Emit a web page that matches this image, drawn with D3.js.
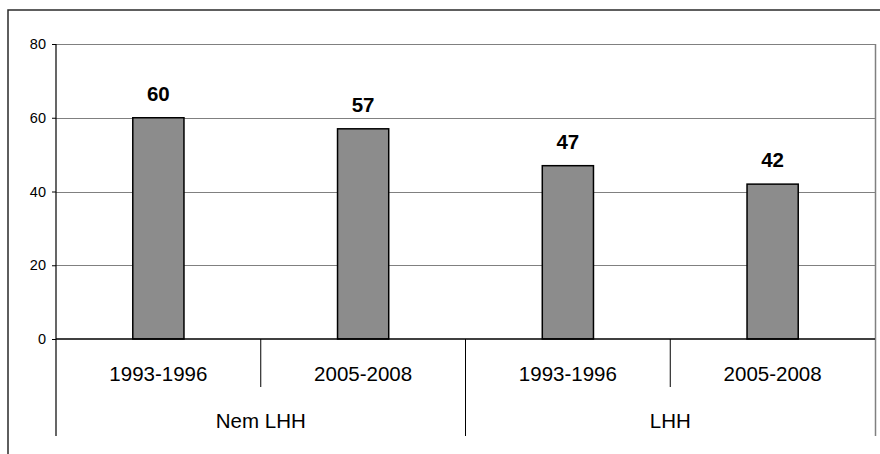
<!DOCTYPE html>
<html>
<head>
<meta charset="utf-8">
<script src="https://cdn.jsdelivr.net/npm/d3@7"></script>
<style>
  html, body { margin: 0; padding: 0; background: #fff; }
  svg { display: block; font-family: Arial, "Liberation Sans", sans-serif; }
</style>
</head>
<body>
<svg id="chart" width="880" height="454"></svg>
<script>
const categories = ["1993-1996", "2005-2008", "1993-1996", "2005-2008"];
const groups = ["Nem LHH", "LHH"];
const groupOf = [0, 0, 1, 1];
const values = [60, 57, 47, 42];
const yTicks = [0, 20, 40, 60, 80];

(function () {
const svg = d3.select("#chart");
const pLeft = 56, pRight = 875, pTop = 44, pBottom = 339;

// outer frame (clipped at right/bottom)
svg.append("path")
  .attr("d", "M8,454 L8,10 L880,10")
  .attr("fill", "none").attr("stroke", "#2a2a2a").attr("stroke-width", 1.5);

const x = d3.scaleBand().domain(d3.range(categories.length))
  .range([pLeft, pRight]).paddingInner(0.75).paddingOuter(0.375);
const step = x.step();
const y = d3.scaleLinear().domain([0, 80]).range([pBottom, pTop]);

// gridlines
svg.append("g").selectAll("line").data(yTicks.filter(d => d > 0)).join("line")
  .attr("x1", pLeft).attr("x2", pRight)
  .attr("y1", d => Math.round(y(d)) + 0.5).attr("y2", d => Math.round(y(d)) + 0.5)
  .attr("stroke", "#808080").attr("stroke-width", 1);

// right border of plot, extended down to bottom of group labels
svg.append("line").attr("x1", pRight + 0.5).attr("x2", pRight + 0.5)
  .attr("y1", pTop).attr("y2", 436).attr("stroke", "#808080").attr("stroke-width", 1.5);

// bars
svg.append("g").selectAll("rect").data(values).join("rect")
  .attr("x", (d, i) => x(i))
  .attr("y", d => y(d))
  .attr("width", x.bandwidth())
  .attr("height", d => y(0) - y(d))
  .attr("fill", "#8c8c8c").attr("stroke", "#000").attr("stroke-width", 1.5);

// value labels
svg.append("g").selectAll("text").data(values).join("text")
  .attr("x", (d, i) => x(i) + x.bandwidth() / 2)
  .attr("y", d => y(d) - 17)
  .attr("text-anchor", "middle")
  .attr("font-size", 20.5).attr("font-weight", "bold").attr("fill", "#000")
  .text(d => d);

// y axis
const yAxis = d3.axisLeft(y).tickValues(yTicks).tickSize(4).tickPadding(6);
const gy = svg.append("g").attr("transform", `translate(${pLeft},0)`).call(yAxis);
gy.select(".domain").remove();
gy.selectAll(".tick line").attr("stroke", "#000");
gy.selectAll(".tick text").attr("font-size", 14.5).attr("fill", "#000")
  .attr("font-family", "Arial, 'Liberation Sans', sans-serif");
svg.append("line").attr("x1", pLeft).attr("x2", pLeft).attr("y1", pTop).attr("y2", 436)
  .attr("stroke", "#000").attr("stroke-width", 1.2);

// x axis line
svg.append("line").attr("x1", pLeft).attr("x2", pRight).attr("y1", pBottom).attr("y2", pBottom)
  .attr("stroke", "#000").attr("stroke-width", 1.5);

// category separators
const catBounds = d3.range(1, categories.length).filter(i => groupOf[i] === groupOf[i - 1]);
svg.append("g").selectAll("line").data(catBounds).join("line")
  .attr("x1", i => pLeft + step * i).attr("x2", i => pLeft + step * i)
  .attr("y1", pBottom).attr("y2", 387).attr("stroke", "#000").attr("stroke-width", 1);
const groupBounds = d3.range(1, categories.length).filter(i => groupOf[i] !== groupOf[i - 1]);
svg.append("g").selectAll("line").data(groupBounds).join("line")
  .attr("x1", i => pLeft + step * i).attr("x2", i => pLeft + step * i)
  .attr("y1", pBottom).attr("y2", 436).attr("stroke", "#000").attr("stroke-width", 1);

// category labels
svg.append("g").selectAll("text").data(categories).join("text")
  .attr("x", (d, i) => pLeft + step * (i + 0.5))
  .attr("y", 380.5)
  .attr("text-anchor", "middle").attr("font-size", 20.5).attr("fill", "#000")
  .text(d => d);

// group labels
svg.append("g").selectAll("text").data(groups).join("text")
  .attr("x", (d, g) => {
    const idx = groupOf.map((v, i) => v === g ? i : -1).filter(i => i >= 0);
    return pLeft + step * (d3.min(idx) + d3.max(idx) + 1) / 2;
  })
  .attr("y", 428)
  .attr("text-anchor", "middle").attr("font-size", 20.5).attr("fill", "#000")
  .text(d => d);
})();
</script>
</body>
</html>
